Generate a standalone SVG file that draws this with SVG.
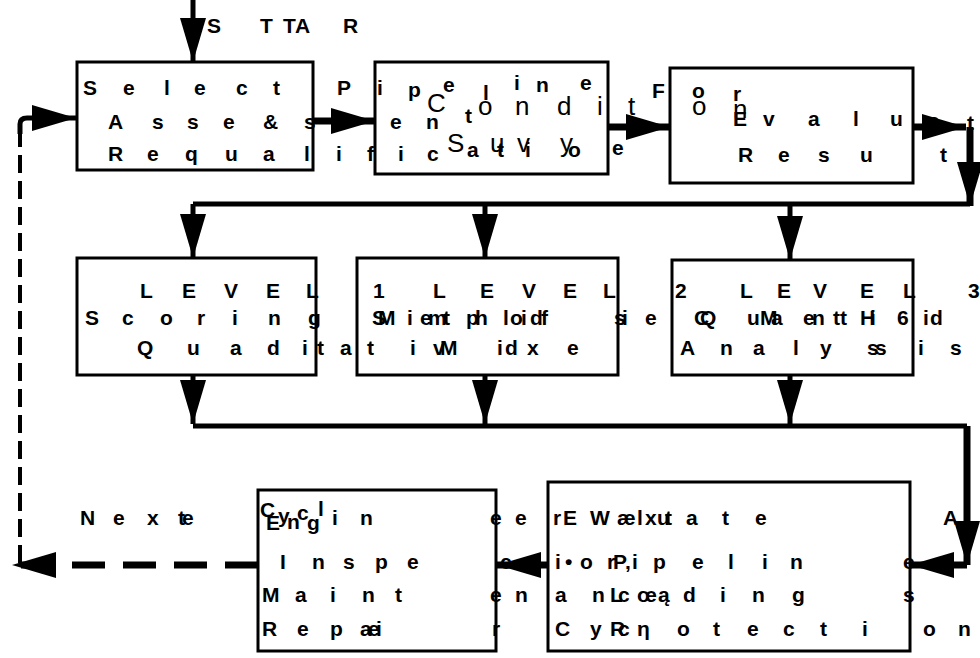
<svg xmlns="http://www.w3.org/2000/svg" width="980" height="658" viewBox="0 0 980 658">
<defs>
<style>
.t{font-family:"Liberation Sans",Arial,Helvetica,sans-serif;font-size:21px;font-weight:bold;fill:#000}
.big{font-size:26px;font-weight:normal}
.box{fill:none;stroke:#000;stroke-width:3}
.ln{fill:none;stroke:#000;stroke-width:5}
.thick{stroke-width:7}
.dh{stroke-dasharray:33 18;stroke-width:7}
.dv{stroke-dasharray:18 8;stroke-width:4}
</style>
<marker id="ah" markerUnits="userSpaceOnUse" markerWidth="44" markerHeight="26" viewBox="0 0 44 26" refX="44" refY="13" orient="auto"><path d="M0,0L44,13L0,26Z" fill="#000"/></marker>
</defs>
<rect width="980" height="658" fill="#fff"/>
<g id="connectors">
<path class="ln" d="M193,0V62" marker-end="url(#ah)"/>
<path class="ln thick" d="M313,121H375" marker-end="url(#ah)"/>
<path class="ln thick" d="M608,127H670" marker-end="url(#ah)"/>
<path class="ln thick" d="M913,127H966" marker-end="url(#ah)"/>
<path class="ln thick" d="M970,127V206" marker-end="url(#ah)"/>
<path class="ln" d="M970,204H193"/>
<path class="ln" d="M193,204V258" marker-end="url(#ah)"/>
<path class="ln" d="M485,204V258" marker-end="url(#ah)"/>
<path class="ln" d="M790,204V260" marker-end="url(#ah)"/>
<path class="ln" d="M193,375V424" marker-end="url(#ah)"/>
<path class="ln" d="M485,375V424" marker-end="url(#ah)"/>
<path class="ln" d="M790,375V424" marker-end="url(#ah)"/>
<path class="ln" d="M193,426H967"/>
<path class="ln thick" d="M967,426V565" marker-end="url(#ah)"/>
<path class="ln thick" d="M967,565H910" marker-end="url(#ah)"/>
<path class="ln thick" d="M548,565H497" marker-end="url(#ah)"/>
<path class="ln dh" d="M258,565H12" marker-end="url(#ah)"/>
<path class="ln dv" d="M20,563V130"/>
<path class="ln" d="M20,134V124Q20,118 27,118H76" marker-end="url(#ah)"/>
</g>
<g id="start">
<text class="t" x="207 260 283 295 343" y="33">STTAR</text>
</g>
<g id="n-select">
<rect class="box" x="77" y="62" width="236" height="108"/>
<text class="t" x="83 123 164 194 236 273" y="95">Select</text>
<text class="t" x="337 377 408 443 483 514 536 580" y="95 95 97 92 100 90 92 90">Pipeline</text>
<text class="t" x="108 152 187 223 263 304" y="129">Asse&amp;s</text>
<text class="t" x="108 147 185 225 263 304 336 367 398 427" y="161">Requalific</text>
</g>
<g id="n-survey">
<rect class="box" x="375" y="62" width="233" height="112"/>
<text class="t" x="390 426 465" y="129 129 123">ent</text>
<text class="t big" x="427 478 515 557 597 628 692 733" y="112 115 115 115 115 115 115 118">Conditon</text>
<text class="t" x="467 497 525 568" y="157">atio</text>
<text class="t big" x="447 490 517 560" y="152">Suvy</text>
<text class="t" x="612" y="155">e</text>
</g>
<g id="n-evaluate">
<rect class="box" x="670" y="68" width="243" height="115"/>
<text class="t" x="652 692 733" y="98 98 101">For</text>
<text class="t" x="733 763 808 853 890 928 967" y="126 126 126 126 126 128 130">Evaluat</text>
<text class="t" x="738 778 818 860 940" y="162">Resut</text>
</g>
<g id="n-level1">
<rect class="box" x="77" y="258" width="239" height="117"/>
<text class="t" x="140 182 224 266 306 373 433 480 522 563 603 675 740 777 813 860 903 968" y="298">LEVEL1LEVEL2LEVEL3</text>
<text class="t" x="85 122 160 197 232 268 308" y="325">Scoring</text>
<text class="t" x="137 187 230 267 302 317 340 367 410 433 440 497 505 527 567 680 720 753 793 820 867 875 918 950" y="355">QuaditativMidxeAnalyssis</text>
</g>
<g id="n-level2">
<rect class="box" x="357" y="258" width="261" height="117"/>
<text class="t" x="372 378 407 420 428 443 466 475 503 510 521 530 541 614 622 645" y="325">SMiemtphloidfsie</text>
</g>
<g id="n-level3">
<rect class="box" x="672" y="260" width="241" height="115"/>
<text class="t" x="694 700 747 760 771 803 812 833 840 860 870 897 923 930" y="325">CQuMaenttHi6id</text>
</g>
<g id="n-engineer">
<rect class="box" x="258" y="490" width="238" height="161"/>
<text class="t" x="80 113 147 178 182" y="525">Nexte</text>
<text class="t" x="260 266 278 287 297 307 318 332 360 490" y="517 530 523 529 520 530 516 525 525 525">CEyncgline</text>
<text class="t" x="280 312 343 375 407 500" y="569">Inspec</text>
<text class="t" x="262 295 330 362 395 490" y="602">Mainte</text>
<text class="t" x="262 297 330 360 368 376 492" y="636">Repaeir</text>
</g>
<g id="n-inspect">
<rect class="box" x="548" y="482" width="362" height="169"/>
<text class="t" x="515 553 563 590 617 637 645 657 665 686 722 755 943" y="525">erEWælxutateA</text>
<text class="t" x="555 565 580 607 613 625 632 653 692 728 762 790 903" y="569">i•orP,ipeline</text>
<text class="t" x="515 555 592 610 618 637 658 683 720 752 792 903" y="602">nanLcœądings</text>
<text class="t" x="555 590 610 618 637 677 713 747 783 820 862 923 958" y="636">CyRcηotection</text>
</g>
</svg>
